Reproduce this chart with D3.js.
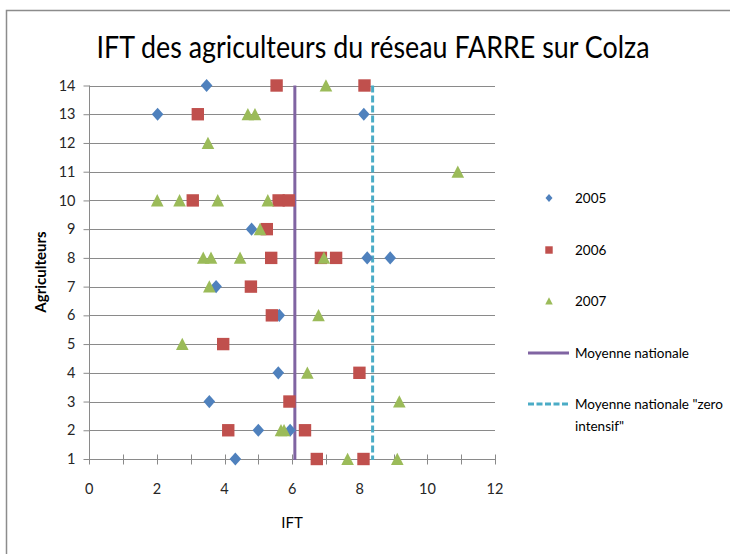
<!DOCTYPE html>
<html><head><meta charset="utf-8">
<script src="https://cdn.jsdelivr.net/npm/d3@7/dist/d3.min.js"></script>
<style>body{margin:0;background:#fff} svg{display:block}</style>
</head><body>
<svg id="c" width="730" height="554"></svg>
<script>
// ---- data ----
const title = "IFT des agriculteurs du réseau FARRE sur Colza";
const xTitle = "IFT";
const yTitle = "Agriculteurs";
const seriesNames = ["2005", "2006", "2007"];
const lineNames = ["Moyenne nationale", "Moyenne nationale \"zero intensif\""];

const ift2005  = [3.47, 2.02, 8.12, 4.80, 8.22, 8.90, 3.75, 5.62, 5.59, 3.55, 5.00, 5.94, 4.32];
const agri2005 = [14,   13,   13,   9,    8,    8,    7,    6,    4,    3,    2,    2,    1];

const ift2006  = [5.54, 8.14, 3.21, 3.06, 5.60, 5.90, 5.25, 5.38, 6.85, 7.30, 4.78, 5.40, 3.96, 7.99, 5.92, 4.11, 6.38, 6.73, 8.11];
const agri2006 = [14,   14,   13,   10,   10,   10,   9,    8,    8,    8,    7,    6,    5,    4,    3,    2,    2,    1,    1];

const ift2007  = [7.00, 4.69, 4.90, 3.51, 10.90, 2.01, 2.67, 3.80, 5.28, 5.05, 3.37, 3.60, 4.46, 6.94, 3.55, 6.78, 2.75, 6.45, 9.17, 5.67, 5.76, 7.64, 9.11];
const agri2007 = [14,   13,   13,   12,   11,    10,   10,   10,   10,   9,    8,    8,    8,    8,    7,    6,    5,    4,    3,    2,    2,    1,    1];

const moyenneNationale = 6.08;
const moyenneZeroIntensif = 8.38;

const xTickValues = [0, 2, 4, 6, 8, 10, 12];
const xMinorValues = [1, 3, 5, 7, 9, 11];
const yTickValues = [1, 2, 3, 4, 5, 6, 7, 8, 9, 10, 11, 12, 13, 14];

// ---- styles ----
const FONT = "Lato, 'Open Sans', sans-serif";
const colors = ["#4F81BD", "#C0504D", "#9BBB59"];
const lineColors = ["#8064A2", "#4BACC6"];
const gridColor = "#8a8a8a";

const svg = d3.select("#c");

// outer frame
svg.append("rect").attr("x", 6.5).attr("y", 10.5).attr("width", 760).attr("height", 600)
  .attr("fill", "#fff").attr("stroke", "#8c8c8c").attr("stroke-width", 1.5);

const x = d3.scaleLinear().domain([0, 12]).range([89.3, 495]);
const y = d3.scaleLinear().domain([1, 14]).range([459, 85.5]);

// gridlines
svg.append("g").selectAll("line").data(yTickValues).join("line")
  .attr("x1", x(0)).attr("x2", x(12))
  .attr("y1", d => Math.round(y(d)) + 0.5).attr("y2", d => Math.round(y(d)) + 0.5)
  .attr("stroke", gridColor).attr("stroke-width", 1);

// y axis
const yAxis = d3.axisLeft(y).tickValues(yTickValues).tickSize(6).tickPadding(8).tickFormat(d3.format("d"));
const gy = svg.append("g").attr("transform", `translate(${Math.round(x(0)) + 0.5},0)`).call(yAxis);
gy.select(".domain").attr("stroke", gridColor).attr("d", `M0,${y(14)}V${y(1) + 5}`);
gy.selectAll(".tick line").attr("stroke", gridColor);
gy.selectAll(".tick text").attr("font-family", FONT).attr("font-size", 14.5).attr("fill", "#262626");

// x axis (crossing tick marks)
const gx = svg.append("g").attr("transform", `translate(0,${Math.round(y(1)) + 0.5})`);
gx.selectAll("line.tk").data(xTickValues.concat(xMinorValues)).join("line").attr("class", "tk")
  .attr("x1", d => Math.round(x(d)) + 0.5).attr("x2", d => Math.round(x(d)) + 0.5)
  .attr("y1", -5).attr("y2", 5).attr("stroke", gridColor);
gx.selectAll("text").data(xTickValues).join("text")
  .attr("x", d => x(d)).attr("y", 34).attr("text-anchor", "middle")
  .attr("font-family", FONT).attr("font-size", 14.5).attr("fill", "#262626")
  .text(d => d);

// reference lines
svg.append("line").attr("x1", x(moyenneNationale)).attr("x2", x(moyenneNationale))
  .attr("y1", y(14)).attr("y2", y(1) + 1).attr("stroke", lineColors[0]).attr("stroke-width", 3);
svg.append("line").attr("x1", x(moyenneZeroIntensif)).attr("x2", x(moyenneZeroIntensif))
  .attr("y1", y(14)).attr("y2", y(1) + 1).attr("stroke", lineColors[1]).attr("stroke-width", 3)
  .attr("stroke-dasharray", "7,3");

// marker shapes
function markerPath(type, s) {
  if (type === 0) { const w = 5.8 * s, h = 6.6 * s; return `M0,${-h}L${w},0L0,${h}L${-w},0Z`; }
  if (type === 1) { const h = 6.2 * s; return `M${-h},${-h}H${h}V${h}H${-h}Z`; }
  const w = 6.3 * s, h = 6.3 * s; return `M0,${-h}L${w},${h * 0.95}H${-w}Z`;
}

const seriesData = [
  ift2005.map((v, i) => ({ v, a: agri2005[i] })),
  ift2006.map((v, i) => ({ v, a: agri2006[i] })),
  ift2007.map((v, i) => ({ v, a: agri2007[i] }))
];
seriesData.forEach((pts, si) => {
  svg.append("g").selectAll("path").data(pts).join("path")
    .attr("d", markerPath(si, 1))
    .attr("transform", d => `translate(${x(d.v)},${y(d.a)})`)
    .attr("fill", colors[si]);
});

// title
svg.append("text").attr("x", 373).attr("y", 58).attr("text-anchor", "middle")
  .attr("font-family", FONT).attr("font-size", 30).attr("fill", "#000")
  .attr("textLength", 553).attr("lengthAdjust", "spacingAndGlyphs").text(title);

// axis titles
svg.append("text").attr("x", 292).attr("y", 528).attr("text-anchor", "middle")
  .attr("font-family", FONT).attr("font-size", 15).attr("fill", "#000").text(xTitle);
svg.append("text").attr("transform", "translate(46,272) rotate(-90)").attr("text-anchor", "middle")
  .attr("font-family", FONT).attr("font-size", 15).attr("font-weight", "bold").attr("fill", "#000").text(yTitle);

// legend
const leg = svg.append("g").attr("font-family", FONT).attr("font-size", 13.5).attr("fill", "#000");
const legY = [198, 250, 301];
seriesNames.forEach((n, i) => {
  leg.append("path").attr("d", markerPath(i, 0.6)).attr("transform", `translate(549,${legY[i]})`).attr("fill", colors[i]);
  leg.append("text").attr("x", 575).attr("y", legY[i] + 5).text(n);
});
leg.append("line").attr("x1", 528).attr("x2", 569).attr("y1", 353).attr("y2", 353)
  .attr("stroke", lineColors[0]).attr("stroke-width", 3);
leg.append("text").attr("x", 575).attr("y", 358).text(lineNames[0]);
leg.append("line").attr("x1", 528).attr("x2", 569).attr("y1", 404).attr("y2", 404)
  .attr("stroke", lineColors[1]).attr("stroke-width", 3).attr("stroke-dasharray", "6,2.5");
leg.append("text").attr("x", 575).attr("y", 409).text("Moyenne nationale \"zero");
leg.append("text").attr("x", 575).attr("y", 431).text("intensif\"");
</script>
</body></html>
